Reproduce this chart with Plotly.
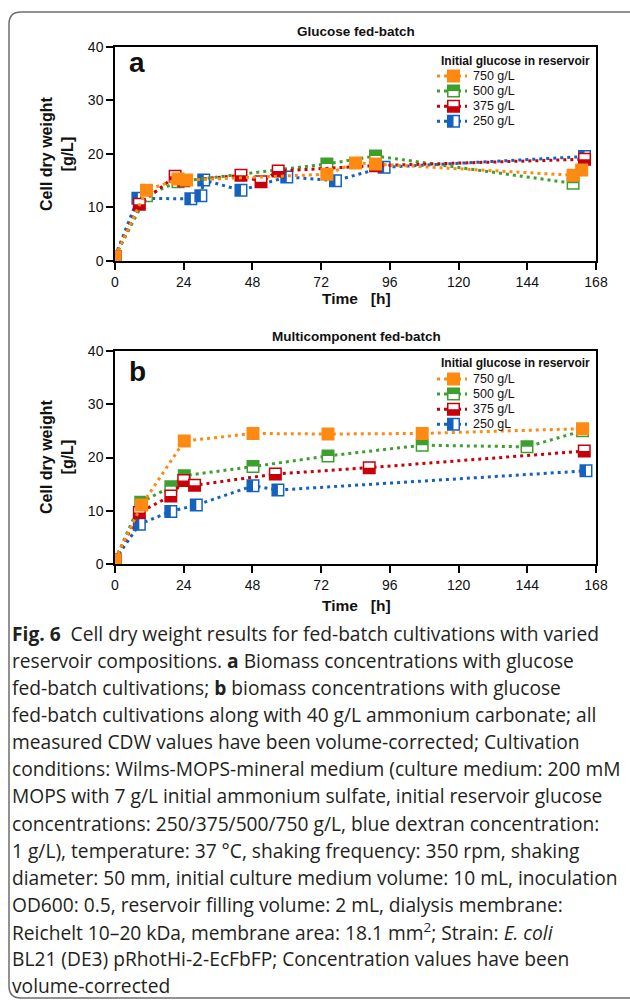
import plotly.graph_objects as go

# ---------------- data ----------------
x_ticks = [0, 24, 48, 72, 96, 120, 144, 168]
y_ticks = [0, 10, 20, 30, 40]

legend_title = "Initial glucose in reservoir"
series_names_a = ["750 g/L", "500 g/L", "375 g/L", "250 g/L"]
series_names_b = ["750 g/L", "500 g/L", "375 g/L", "250 gL"]

# Panel a: Glucose fed-batch
t_750_a = [0, 11, 22, 25, 74, 84, 91, 160, 163]
v_750_a = [0.8, 13.2, 15.3, 15.1, 16.2, 18.3, 18.1, 16.0, 17.0]
t_500_a = [0, 11, 22, 74, 91, 160]
v_500_a = [0.8, 12.2, 14.8, 18.1, 19.6, 14.5]
t_375_a = [0, 8.5, 21, 24, 44, 51, 57, 91, 164]
v_375_a = [0.8, 10.6, 15.8, 15.0, 16.0, 14.8, 16.8, 17.8, 19.0]
t_250_a = [0, 8, 26.5, 30, 31, 44, 60, 77, 94, 164]
v_250_a = [0.8, 11.7, 11.6, 12.2, 15.1, 13.2, 15.7, 15.0, 17.5, 19.5]

# Panel b: Multicomponent fed-batch
t_750_b = [0, 9.3, 24.2, 48.2, 74.4, 107.3, 163.3]
v_750_b = [0.8, 11.1, 23.1, 24.5, 24.4, 24.5, 25.4]
t_500_b = [0, 9, 19.5, 24.2, 48.2, 74.4, 107.3, 143.9, 163.3]
v_500_b = [0.8, 11.6, 14.5, 16.6, 18.3, 20.3, 22.3, 22.0, 25.0]
t_375_b = [0, 8.5, 19.5, 24, 27.8, 56, 88.8, 163.9]
v_375_b = [0.8, 9.7, 12.8, 15.7, 14.8, 16.9, 18.1, 21.2]
t_250_b = [0, 8.5, 19.5, 28.4, 48.2, 56.9, 164.5]
v_250_b = [0.8, 7.5, 9.9, 11.1, 14.7, 13.9, 17.5]

caption_lines = [
    "<b>Fig. 6</b>\u00a0\u00a0Cell dry weight results for fed-batch cultivations with varied",
    "reservoir compositions. <b>a</b> Biomass concentrations with glucose",
    "fed-batch cultivations; <b>b</b> biomass concentrations with glucose",
    "fed-batch cultivations along with 40 g/L ammonium carbonate; all",
    "measured CDW values have been volume-corrected; Cultivation",
    "conditions: Wilms-MOPS-mineral medium (culture medium: 200 mM",
    "MOPS with 7 g/L initial ammonium sulfate, initial reservoir glucose",
    "concentrations: 250/375/500/750 g/L, blue dextran concentration:",
    "1 g/L), temperature: 37 °C, shaking frequency: 350 rpm, shaking",
    "diameter: 50 mm, initial culture medium volume: 10 mL, inoculation",
    "OD600: 0.5, reservoir filling volume: 2 mL, dialysis membrane:",
    "Reichelt 10–20 kDa, membrane area: 18.1 mm<sup>2</sup>; Strain: <i>E. coli</i>",
    "BL21 (DE3) pRhotHi-2-EcFbFP; Concentration values have been",
    "volume-corrected",
]

# ---------------- styling ----------------
W, H = 630, 1000
C750, C500, C375, C250 = "#FF8A12", "#3DA02E", "#C8000A", "#1461BE"
FONT = "Arial, Liberation Sans, sans-serif"
TXT = "#111111"
S = 11.5  # marker size px
XDOM = [115 / W, 596 / W]
YDOM_A = [1 - 261 / H, 1 - 46.7 / H]
YDOM_B = [1 - 564.3 / H, 1 - 350.7 / H]
ppx = (XDOM[1] - XDOM[0]) * W / 168.0
ppy_a = (YDOM_A[1] - YDOM_A[0]) * H / 40.0
ppy_b = (YDOM_B[1] - YDOM_B[0]) * H / 40.0
DASH = "3px,4px"

# legend geometry (pixels)
LEG_X0, LEG_X1, LEG_MK = 437, 467, 453.5
LEG_TXT_X = 471
LEG_ROW_A, LEG_ROW_B, LEG_DY = 76, 379, 15.1
LEG_TITLE_A, LEG_TITLE_B = 61, 363
LEG_MK_FRAC = (LEG_MK - LEG_X0) / (LEG_X1 - LEG_X0)

fig = go.Figure()


def add_marks(t, v, color, kind, xa, ya, ppxu, ppyu, legend_mode=False):
    full = kind == "full"
    clip = not legend_mode
    fig.add_trace(go.Scatter(
        x=t, y=v, xaxis=xa, yaxis=ya, mode="lines", showlegend=False,
        line=dict(color=color, width=3, dash=DASH), hoverinfo="skip", cliponaxis=clip))
    mt = t if not legend_mode else [LEG_MK_FRAC]
    mv = v if not legend_mode else v[:1]
    fig.add_trace(go.Scatter(
        x=mt, y=mv, xaxis=xa, yaxis=ya, mode="markers", showlegend=False,
        marker=dict(symbol="square", size=S, color=color if full else "white",
                    line=dict(color=color, width=1.5)),
        hoverinfo="skip", cliponaxis=clip))
    if full:
        return
    off = S / 4
    sign = -1 if legend_mode else 1  # legend y-axes are reversed
    if kind == "top":
        xs, ys, sym = mt, [y + sign * off / ppyu for y in mv], "line-ew"
    elif kind == "bottom":
        xs, ys, sym = mt, [y - sign * off / ppyu for y in mv], "line-ew"
    else:  # left half filled
        xs, ys, sym = [x - off / ppxu for x in mt], mv, "line-ns"
    fig.add_trace(go.Scatter(
        x=xs, y=ys, xaxis=xa, yaxis=ya, mode="markers", showlegend=False,
        marker=dict(symbol=sym, size=S / 1.4, color=color,
                    line=dict(width=S / 2, color=color)),
        hoverinfo="skip", cliponaxis=clip))


kinds = ["full", "top", "bottom", "left"]
colors = [C750, C500, C375, C250]

panel_a = [(t_750_a, v_750_a), (t_500_a, v_500_a), (t_375_a, v_375_a), (t_250_a, v_250_a)]
panel_b = [(t_750_b, v_750_b), (t_500_b, v_500_b), (t_375_b, v_375_b), (t_250_b, v_250_b)]

# draw order: blue, green, red, orange (orange on top)
for i in [3, 1, 2, 0]:
    add_marks(*panel_a[i], colors[i], kinds[i], "x", "y", ppx, ppy_a)
for i in [3, 1, 2, 0]:
    add_marks(*panel_b[i], colors[i], kinds[i], "x2", "y2", ppx, ppy_b)

# ---- hand-made legends (glyph subplots: x3/y3 for a, x4/y4 for b) ----
leg_ppx = (LEG_X1 - LEG_X0) / 1.0
leg_ppy = LEG_DY
for xa, ya in [("x3", "y3"), ("x4", "y4")]:
    for i in range(4):
        add_marks([0, 1], [i, i], colors[i], kinds[i], xa, ya, leg_ppx, leg_ppy, legend_mode=True)

axis_common = dict(showline=True, mirror=True, linecolor="black", linewidth=1.5,
                   ticks="outside", ticklen=7, tickwidth=1.5, tickcolor="black",
                   showgrid=False, zeroline=False, automargin=False,
                   tickfont=dict(family=FONT, size=14, color=TXT))
hidden = dict(visible=False, showgrid=False, zeroline=False, fixedrange=True)


def leg_ydom(row0):
    top = row0 - LEG_DY / 2
    bot = row0 + 3 * LEG_DY + LEG_DY / 2
    return [1 - bot / H, 1 - top / H]


fig.update_layout(
    width=W, height=H, margin=dict(l=0, r=0, t=0, b=0),
    paper_bgcolor="white", plot_bgcolor="rgba(0,0,0,0)",
    font=dict(family=FONT, color=TXT), showlegend=False,
    xaxis=dict(domain=XDOM, range=[0, 168], tickvals=x_ticks, anchor="y", **axis_common),
    yaxis=dict(domain=YDOM_A, range=[0, 40], tickvals=y_ticks, anchor="x", **axis_common),
    xaxis2=dict(domain=XDOM, range=[0, 168], tickvals=x_ticks, anchor="y2", **axis_common),
    yaxis2=dict(domain=YDOM_B, range=[0, 40], tickvals=y_ticks, anchor="x2", **axis_common),
    xaxis3=dict(domain=[LEG_X0 / W, LEG_X1 / W], range=[0, 1], anchor="y3", **hidden),
    yaxis3=dict(domain=leg_ydom(LEG_ROW_A), range=[3.5, -0.5], anchor="x3", **hidden),
    xaxis4=dict(domain=[LEG_X0 / W, LEG_X1 / W], range=[0, 1], anchor="y4", **hidden),
    yaxis4=dict(domain=leg_ydom(LEG_ROW_B), range=[3.5, -0.5], anchor="x4", **hidden),
)

ann = []


def px_ann(text, x, y, size, bold=False, angle=0, xanchor="center", family=FONT):
    ann.append(dict(text=f"<b>{text}</b>" if bold else text, x=x / W, y=1 - y / H,
                    xref="paper", yref="paper", showarrow=False, textangle=angle,
                    xanchor=xanchor, yanchor="middle",
                    font=dict(family=family, size=size, color=TXT)))


# panel titles
px_ann("Glucose fed-batch", 356, 31, 13.5, bold=True)
px_ann("Multicomponent fed-batch", 356, 337, 13.5, bold=True)
# panel letters
px_ann("a", 137, 63, 28, bold=True)
px_ann("b", 137, 371, 28, bold=True)
# axis titles
for yc, xt in [(154, 298), (457, 605)]:
    px_ann("Cell dry weight<br>[g/L]", 57, yc, 16, bold=True, angle=-90)
    px_ann("Time\u00a0\u00a0\u00a0[h]", 356, xt, 15.5, bold=True)
# legend texts
for names, row0, ty in [(series_names_a, LEG_ROW_A, LEG_TITLE_A), (series_names_b, LEG_ROW_B, LEG_TITLE_B)]:
    px_ann(legend_title, 439, ty, 12, bold=True, xanchor="left")
    for i, nm in enumerate(names):
        px_ann(nm, LEG_TXT_X, row0 + i * LEG_DY, 12.5, xanchor="left")

# caption
for i, line in enumerate(caption_lines):
    ann.append(dict(text=line, x=10 / W, y=1 - (633 + i * 27.15) / H, xref="paper", yref="paper",
                    showarrow=False, xanchor="left", yanchor="middle", align="left",
                    font=dict(family="Open Sans", size=19.2, color="#231f20")))

fig.update_layout(annotations=ann)


# rounded frame (right side extends beyond the figure)
def P(x, y):
    return f"{x / W:.5f},{1 - y / H:.5f}"


path = (f"M {P(660, 12)} L {P(21, 12)} Q {P(9, 12)} {P(9, 24)} "
        f"L {P(9, 986)} Q {P(9, 998)} {P(21, 998)} L {P(660, 998)}")
fig.add_shape(type="path", path=path, xref="paper", yref="paper",
              line=dict(color="#6d6d6d", width=1.5), layer="below")

fig.write_html("out.html", config={"displayModeBar": False},
               post_script="document.body.style.margin='0px';document.body.style.overflow='hidden';")
